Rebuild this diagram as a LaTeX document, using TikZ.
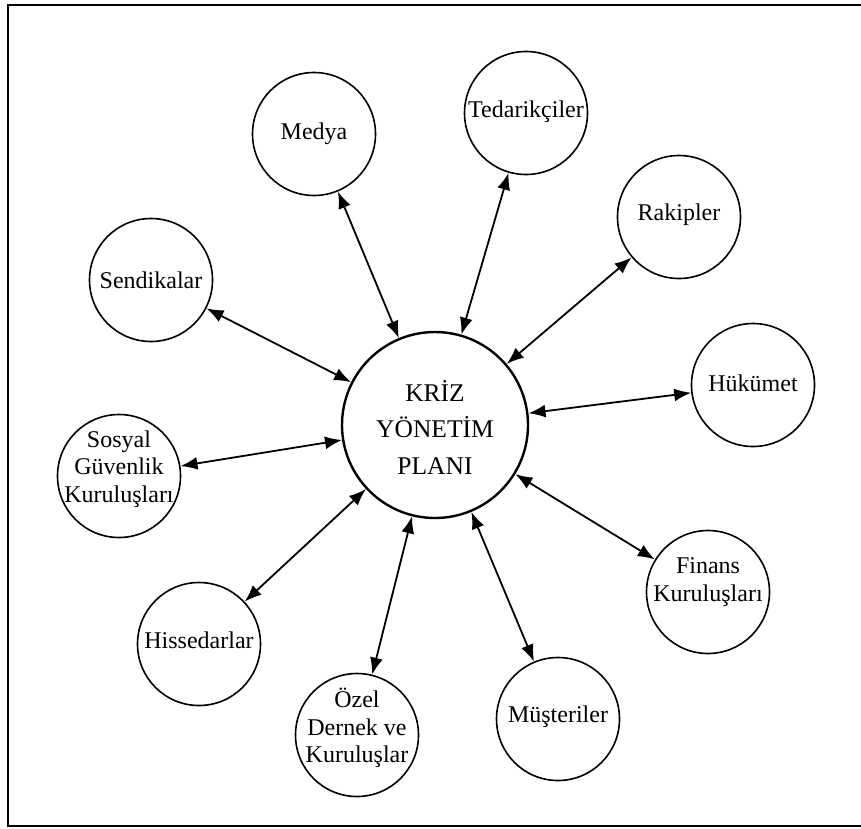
\documentclass[tikz,border=0pt]{standalone}
\usepackage{fontspec}
\setmainfont{Liberation Serif}
\usetikzlibrary{arrows.meta}
\begin{document}
\begin{tikzpicture}[x=1pt,y=-1pt,
  party/.style={circle, draw, line width=1.6pt, minimum size=123pt, inner sep=0pt},
  hub/.style={circle, draw, line width=2.4pt, minimum size=186pt, inner sep=0pt},
  tag/.style={align=center, inner sep=0pt, font=\fontsize{24}{27.5}\selectfont},
  hubtag/.style={align=center, inner sep=0pt, font=\fontsize{25.5}{36.5}\selectfont},
  link/.style={line width=1.8pt,
    {Latex[length=17pt,width=13pt]}-{Latex[length=17pt,width=13pt]}}
]
\useasboundingbox (0,0) rectangle (861,828);
% outer frame
\draw[line width=1.3pt] (870,5) -- (8,5) -- (8,826) -- (870,826);

% central plan
\node[hub] (plan) at (435,425) {};
\node[hubtag] (plantext) at (435,427) {KRİZ\\YÖNETİM\\PLANI};

% stakeholders
\node[party] (medya) at (314,134) {};
\node[tag] (medyatext) at (314,134) {Medya};
\node[party] (tedarik) at (526,113) {};
\node[tag] (tedariktext) at (526,112) {Tedarikçiler};
\node[party] (rakip) at (679,217) {};
\node[tag] (rakiptext) at (679,215) {Rakipler};
\node[party] (hukumet) at (753,385) {};
\node[tag] (hukumettext) at (753,383) {Hükümet};
\node[party] (finans) at (708,592) {};
\node[tag] (finanstext) at (708,582) {Finans\\Kuruluşları};
\node[party] (musteri) at (558,719) {};
\node[tag] (musteritext) at (558,717) {Müşteriler};
\node[party] (ozel) at (357,735) {};
\node[tag] (ozeltext) at (357,728) {Özel\\Dernek ve\\Kuruluşlar};
\node[party] (hisse) at (199,644) {};
\node[tag] (hissetext) at (199,640) {Hissedarlar};
\node[party] (sosyal) at (119,476) {};
\node[tag] (sosyaltext) at (119,469) {Sosyal\\Güvenlik\\Kuruluşları};
\node[party] (sendika) at (151,280) {};
\node[tag] (sendikatext) at (151,280) {Sendikalar};

% two-way links
\foreach \n in {medya,tedarik,rakip,hukumet,finans,musteri,ozel,hisse,sosyal,sendika}
  \draw[link] (plan) -- (\n);
\end{tikzpicture}
\end{document}
